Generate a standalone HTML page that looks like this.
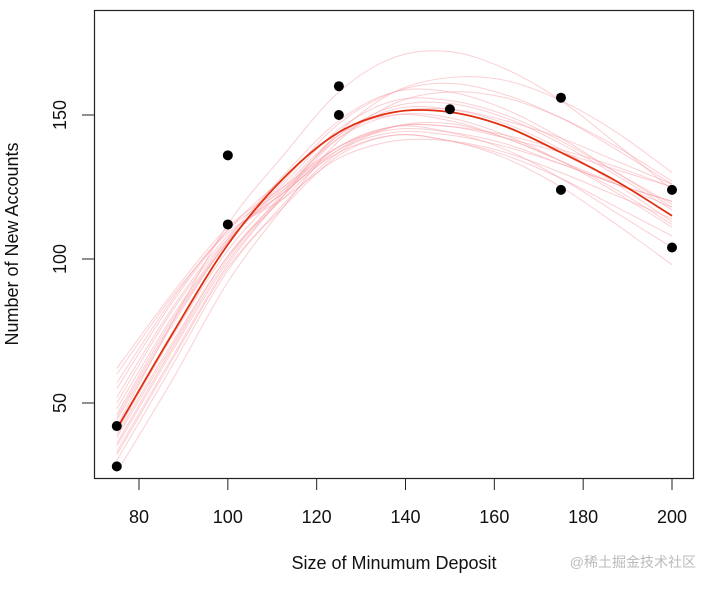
<!DOCTYPE html>
<html><head><meta charset="utf-8"><style>
body{margin:0;background:#fff;}
svg text{font-family:"Liberation Sans","Noto Sans CJK SC",sans-serif;}
</style></head><body>
<svg id="chart" width="702" height="587" xmlns="http://www.w3.org/2000/svg">
<rect x="0" y="0" width="702" height="587" fill="#fff"/>
<g id="boots"></g>
<g id="main"></g>
<g id="pts"></g>
<rect x="94.5" y="10.5" width="599" height="468" fill="none" stroke="#222" stroke-width="1.2"/>
<g id="xaxis"></g>
<g id="yaxis"></g>
<text x="394" y="569" font-size="18" text-anchor="middle" fill="#111">Size of Minumum Deposit</text>
<text transform="translate(18,244) rotate(-90)" font-size="18" text-anchor="middle" fill="#111">Number of New Accounts</text>
<text x="696" y="567" font-size="14" text-anchor="end" fill="#bbb">@稀土掘金技术社区</text>
</svg>
<script>
const xTicks=[80,100,120,140,160,180,200];
const yTicks=[50,100,150];
const ptX=[75,75,100,100,125,125,150,175,175,200,200];
const ptY=[42,28,136,112,160,150,152,156,124,124,104];
const gridX=[75,87.5,100,112.5,125,137.5,150,162.5,175,187.5,200];
const fitY=[41,74,105,128,144,151,151,146,137,127,115];
const boot1=[55,85,110,128,144,150,148,142,134,126,118];
const boot2=[30,63,96,119,137,146,147,142,134,124,112];
const boot3=[48,80,107,129,148,158,158,152,142,130,118];
const boot4=[36,69,100,123,143,153,154,149,140,129,117];
const boot5=[62,88,111,125,139,145,144,140,133,126,120];
const boot6=[26,58,92,118,141,154,158,156,149,139,127];
const boot7=[45,78,106,126,145,155,155,150,141,130,119];
const boot8=[50,82,107,123,138,144,143,139,133,126,120];
const boot9=[33,66,98,122,144,158,163,162,155,144,130];
const boot10=[40,73,103,124,142,150,149,143,134,123,111];
const boot11=[57,86,110,124,139,146,146,143,138,132,125];
const boot12=[38,70,101,122,139,146,144,138,128,116,104];
const boot13=[44,77,106,127,147,158,161,157,149,138,126];
const boot14=[52,83,108,123,137,143,141,136,128,118,108];
const boot15=[35,68,99,122,142,152,152,147,138,126,113];
const boot16=[42,78,112,136,158,170,172,166,155,140,124];
const boot17=[60,87,109,121,135,141,141,137,130,122,114];
const boot18=[32,65,97,118,136,143,141,135,125,112,98];
const boot19=[46,79,106,125,143,151,152,148,142,134,126];
const boot20=[39,71,101,121,138,146,146,142,137,131,125];
const boots=[boot1,boot2,boot3,boot4,boot5,boot6,boot7,boot8,boot9,boot10,boot11,boot12,boot13,boot14,boot15,boot16,boot17,boot18,boot19,boot20];

const NS="http://www.w3.org/2000/svg";
function sx(v){return 139+(v-80)*(672-139)/120;}
function sy(v){return 259-(v-100)*2.88;}
function pathFor(ys){
  const p=gridX.map((x,i)=>[sx(x),sy(ys[i])]);
  let d="M"+p[0][0]+","+p[0][1];
  for(let i=0;i<p.length-1;i++){
    const p0=p[Math.max(0,i-1)],p1=p[i],p2=p[i+1],p3=p[Math.min(p.length-1,i+2)];
    const c1=[p1[0]+(p2[0]-p0[0])/6,p1[1]+(p2[1]-p0[1])/6];
    const c2=[p2[0]-(p3[0]-p1[0])/6,p2[1]-(p3[1]-p1[1])/6];
    d+=" C"+c1[0]+","+c1[1]+" "+c2[0]+","+c2[1]+" "+p2[0]+","+p2[1];
  }
  return d;
}
const bg=document.getElementById('boots');
boots.forEach((b,i)=>{
  const el=document.createElementNS(NS,'path');
  el.setAttribute('d',pathFor(b));el.setAttribute('fill','none');
  el.setAttribute('stroke','#f7a0a8');el.setAttribute('stroke-opacity','0.5');el.setAttribute('stroke-width','1');
  
  
  bg.appendChild(el);
});
const m=document.createElementNS(NS,'path');
m.setAttribute('d',pathFor(fitY));m.setAttribute('fill','none');m.setAttribute('stroke','#e03010');m.setAttribute('stroke-width','1.8');


document.getElementById('main').appendChild(m);
const pg=document.getElementById('pts');
ptX.forEach((x,i)=>{
  const c=document.createElementNS(NS,'circle');
  c.setAttribute('cx',sx(x));c.setAttribute('cy',sy(ptY[i]));c.setAttribute('r','5');c.setAttribute('fill','#000');
  
  
  pg.appendChild(c);
});
const xa=document.getElementById('xaxis');
xTicks.forEach(t=>{
  const l=document.createElementNS(NS,'line');
  l.setAttribute('x1',sx(t));l.setAttribute('x2',sx(t));l.setAttribute('y1',478);l.setAttribute('y2',490);l.setAttribute('stroke','#222');
  
  
  xa.appendChild(l);
  const tx=document.createElementNS(NS,'text');
  tx.setAttribute('x',sx(t));tx.setAttribute('y',523);tx.setAttribute('font-size','18');tx.setAttribute('text-anchor','middle');tx.setAttribute('fill','#111');
  tx.textContent=t;
  
  
  xa.appendChild(tx);
});
const ya=document.getElementById('yaxis');
yTicks.forEach(t=>{
  const l=document.createElementNS(NS,'line');
  l.setAttribute('x1',82);l.setAttribute('x2',94);l.setAttribute('y1',sy(t));l.setAttribute('y2',sy(t));l.setAttribute('stroke','#222');
  
  
  ya.appendChild(l);
  const tx=document.createElementNS(NS,'text');
  tx.setAttribute('transform','translate(66,'+sy(t)+') rotate(-90)');tx.setAttribute('font-size','18');tx.setAttribute('text-anchor','middle');tx.setAttribute('fill','#111');
  tx.textContent=t;
  
  
  ya.appendChild(tx);
});
</script>
</body></html>
